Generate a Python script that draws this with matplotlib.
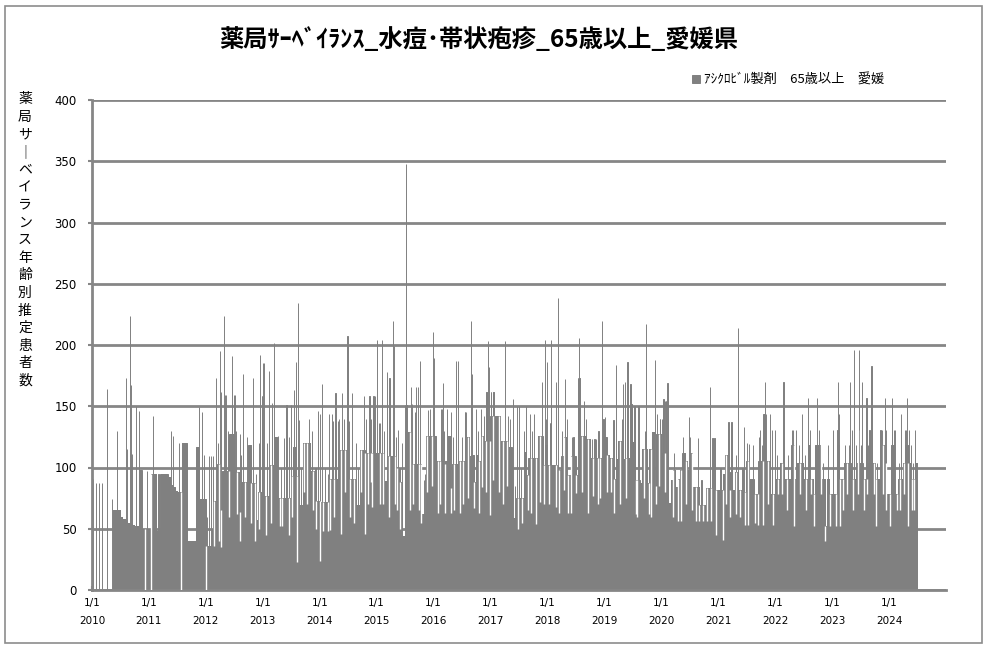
import numpy as np
import pandas as pd
import matplotlib
matplotlib.use("Agg")
import matplotlib.pyplot as plt
from matplotlib.patches import Rectangle

plt.rcParams['font.family'] = ['Noto Sans CJK JP', 'DejaVu Sans']

TITLE = "薬局ｻｰﾍﾞｲﾗﾝｽ_水痘･帯状疱疹_65歳以上_愛媛県"
SERIES_LABEL = "ｱｼｸﾛﾋﾞﾙ製剤　65歳以上　愛媛"
YLABEL_CHARS = ["薬", "局", "サ", "｜", "ベ", "イ", "ラ", "ン", "ス",
                "年", "齢", "別", "推", "定", "患", "者", "数"]
YEARS = list(range(2010, 2025))
Y_TICKS = [0, 50, 100, 150, 200, 250, 300, 350, 400]

# Half-month levels (1st-15th, 16th-end) of the main bar mass, per year
level_2010 = [0, 0, 0, 0, 0, 0, 0, 0, 0, 65, 65, 65, 60, 58, 57, 55, 54, 53, 52, 52, 98, 50, 50, 50]
level_2011 = [50, 95, 95, 48, 48, 95, 95, 95, 92, 86, 84, 81, 80, 80, 120, 120, 40, 40, 40, 40, 117, 74, 74, 74]
level_2012 = [36, 36, 50, 73, 73, 103, 65, 97, 97, 97, 127, 127, 96, 96, 64, 88, 88, 88, 118, 87, 87, 57, 80, 80]
level_2013 = [77, 77, 77, 102, 102, 125, 75, 75, 75, 75, 75, 75, 93, 117, 93, 69, 69, 120, 120, 120, 97, 97, 73, 73]
level_2014 = [72, 72, 72, 72, 91, 91, 91, 91, 114, 114, 114, 114, 91, 91, 91, 69, 69, 114, 114, 112, 112, 112, 112, 112]
level_2015 = [112, 112, 112, 89, 89, 109, 109, 109, 100, 100, 88, 44, 129, 129, 129, 103, 103, 103, 103, 62, 62, 126, 126, 126]
level_2016 = [126, 105, 105, 105, 103, 105, 126, 83, 103, 103, 103, 105, 105, 105, 125, 109, 110, 88, 110, 105, 126, 122, 122, 122]
level_2017 = [142, 122, 142, 142, 122, 122, 122, 117, 117, 59, 59, 75, 75, 75, 113, 94, 108, 108, 108, 108, 126, 126, 102, 118]
level_2018 = [102, 102, 102, 102, 98, 98, 109, 125, 94, 94, 109, 109, 94, 126, 126, 126, 123, 123, 108, 108, 108, 108, 108, 109]
level_2019 = [125, 110, 108, 108, 91, 107, 122, 122, 107, 108, 108, 108, 121, 90, 90, 87, 115, 115, 87, 115, 129, 85, 127, 127]
level_2020 = [112, 112, 112, 71, 90, 98, 84, 91, 98, 112, 105, 98, 112, 84, 84, 84, 69, 69, 69, 83, 83, 83, 69, 82]
level_2021 = [82, 82, 95, 110, 96, 82, 82, 96, 82, 82, 80, 80, 105, 91, 91, 78, 78, 105, 105, 105, 105, 105, 78, 78]
level_2022 = [91, 91, 104, 104, 91, 91, 91, 118, 91, 104, 104, 104, 91, 91, 118, 91, 78, 118, 118, 91, 91, 52, 91, 78]
level_2023 = [78, 78, 118, 91, 91, 104, 104, 104, 91, 91, 104, 104, 104, 91, 91, 104, 104, 104, 91, 91, 91, 118, 104, 78]
level_2024 = [78, 118, 78, 78, 91, 91, 104, 118, 104, 91, 91, 104]

# Single-day peaks (date, value)
spikes_2010 = [("2010-01-09", 91), ("2010-01-26", 87), ("2010-02-17", 87), ("2010-03-08", 87),
               ("2010-04-08", 164), ("2010-05-07", 74), ("2010-06-11", 130), ("2010-08-08", 173),
               ("2010-08-16", 115), ("2010-09-03", 224), ("2010-09-07", 167), ("2010-09-13", 111),
               ("2010-10-09", 150), ("2010-10-28", 146), ("2010-12-20", 97)]
spikes_2011 = [("2011-01-28", 142), ("2011-03-04", 95), ("2011-05-21", 130), ("2011-06-03", 126),
               ("2011-07-14", 120), ("2011-11-16", 149), ("2011-12-10", 145), ("2011-12-20", 110)]
spikes_2012 = [("2012-01-10", 60), ("2012-01-20", 109), ("2012-02-05", 109), ("2012-02-15", 109),
               ("2012-03-07", 173), ("2012-03-20", 120), ("2012-04-02", 195), ("2012-04-05", 162),
               ("2012-04-27", 224), ("2012-05-05", 159), ("2012-05-10", 159), ("2012-05-20", 130),
               ("2012-06-18", 191), ("2012-06-28", 159), ("2012-07-05", 159), ("2012-07-15", 130),
               ("2012-08-10", 127), ("2012-08-15", 110), ("2012-08-27", 176), ("2012-09-20", 125),
               ("2012-10-05", 118), ("2012-10-30", 173), ("2012-11-20", 95), ("2012-12-08", 120),
               ("2012-12-16", 192), ("2012-12-26", 158), ("2012-12-28", 158)]
spikes_2013 = [("2013-01-04", 185), ("2013-01-09", 185), ("2013-01-28", 120), ("2013-02-10", 179),
               ("2013-03-01", 153), ("2013-03-14", 202), ("2013-04-09", 126), ("2013-04-25", 100),
               ("2013-05-18", 124), ("2013-05-28", 110), ("2013-06-02", 151), ("2013-06-20", 125),
               ("2013-07-02", 151), ("2013-07-21", 163), ("2013-08-03", 186), ("2013-08-16", 234),
               ("2013-08-22", 139), ("2013-09-05", 100), ("2013-10-25", 140), ("2013-11-15", 130),
               ("2013-12-05", 100), ("2013-12-22", 146)]
spikes_2014 = [("2014-01-03", 144), ("2014-01-16", 168), ("2014-02-05", 100), ("2014-02-25", 95),
               ("2014-03-02", 144), ("2014-03-19", 144), ("2014-03-28", 138), ("2014-04-12", 161),
               ("2014-04-29", 138), ("2014-05-05", 140), ("2014-05-25", 161), ("2014-06-05", 140),
               ("2014-06-28", 207), ("2014-07-09", 138), ("2014-07-28", 161), ("2014-08-20", 120),
               ("2014-09-05", 100), ("2014-10-12", 158), ("2014-10-25", 140), ("2014-11-16", 158),
               ("2014-11-28", 140), ("2014-12-12", 158), ("2014-12-23", 158)]
spikes_2015 = [("2015-01-03", 204), ("2015-01-15", 136), ("2015-01-25", 136), ("2015-02-04", 204),
               ("2015-02-20", 130), ("2015-03-10", 178), ("2015-03-25", 173), ("2015-04-15", 220),
               ("2015-04-22", 199), ("2015-05-05", 125), ("2015-05-20", 131), ("2015-06-15", 120),
               ("2015-07-03", 151), ("2015-07-08", 348), ("2015-07-12", 151), ("2015-07-15", 151),
               ("2015-08-07", 166), ("2015-08-18", 152), ("2015-09-04", 145), ("2015-09-13", 166),
               ("2015-09-21", 166), ("2015-10-08", 187), ("2015-10-30", 90), ("2015-11-05", 95),
               ("2015-11-27", 147), ("2015-12-12", 148), ("2015-12-29", 211)]
spikes_2016 = [("2016-01-02", 189), ("2016-02-18", 148), ("2016-02-24", 148), ("2016-02-29", 169),
               ("2016-03-10", 130), ("2016-03-26", 148), ("2016-04-21", 145), ("2016-05-05", 125),
               ("2016-05-24", 187), ("2016-06-06", 187), ("2016-07-02", 125), ("2016-07-20", 145),
               ("2016-07-22", 145), ("2016-07-26", 145), ("2016-08-29", 220), ("2016-09-05", 176),
               ("2016-10-01", 148), ("2016-10-10", 130), ("2016-11-02", 148), ("2016-11-22", 142),
               ("2016-12-02", 162), ("2016-12-06", 162), ("2016-12-11", 162), ("2016-12-18", 203),
               ("2016-12-24", 182)]
spikes_2017 = [("2017-01-03", 162), ("2017-01-06", 162), ("2017-01-09", 142), ("2017-01-18", 162),
               ("2017-01-20", 162), ("2017-01-24", 162), ("2017-02-15", 142), ("2017-03-05", 140),
               ("2017-04-03", 203), ("2017-04-22", 142), ("2017-05-05", 140), ("2017-05-25", 156),
               ("2017-06-05", 85), ("2017-06-19", 150), ("2017-07-02", 150), ("2017-07-15", 100),
               ("2017-08-05", 130), ("2017-08-18", 150), ("2017-09-11", 144), ("2017-09-25", 130),
               ("2017-10-06", 144), ("2017-11-27", 170), ("2017-12-16", 204), ("2017-12-22", 140),
               ("2017-12-29", 186)]
spikes_2018 = [("2018-01-17", 136), ("2018-01-20", 136), ("2018-01-22", 204), ("2018-01-25", 152),
               ("2018-02-23", 170), ("2018-03-08", 238), ("2018-04-05", 130), ("2018-04-22", 172),
               ("2018-05-07", 140), ("2018-06-05", 125), ("2018-06-17", 125), ("2018-07-16", 173),
               ("2018-07-18", 173), ("2018-07-21", 206), ("2018-07-24", 173), ("2018-07-26", 173),
               ("2018-07-28", 173), ("2018-08-22", 154), ("2018-09-05", 140), ("2018-09-28", 123),
               ("2018-10-13", 123), ("2018-10-30", 123), ("2018-11-06", 123), ("2018-11-25", 130),
               ("2018-12-16", 220), ("2018-12-27", 140)]
spikes_2019 = [("2019-01-05", 141), ("2019-03-01", 139), ("2019-03-19", 184), ("2019-04-25", 140),
               ("2019-05-03", 168), ("2019-05-16", 170), ("2019-05-30", 186), ("2019-06-18", 168),
               ("2019-06-20", 130), ("2019-06-22", 152), ("2019-06-24", 152), ("2019-06-26", 152),
               ("2019-07-14", 150), ("2019-08-08", 150), ("2019-09-20", 130), ("2019-09-23", 217),
               ("2019-09-28", 130), ("2019-11-20", 188), ("2019-12-03", 144), ("2019-12-22", 140),
               ("2019-12-26", 140)]
spikes_2020 = [("2020-01-05", 140), ("2020-01-10", 140), ("2020-01-16", 156), ("2020-01-25", 154),
               ("2020-01-29", 154), ("2020-02-03", 154), ("2020-02-10", 169), ("2020-03-25", 112),
               ("2020-05-20", 125), ("2020-06-25", 141), ("2020-07-05", 125), ("2020-08-22", 124),
               ("2020-09-15", 90), ("2020-11-08", 166), ("2020-11-25", 124), ("2020-11-28", 124),
               ("2020-12-08", 124)]
spikes_2021 = [("2021-01-15", 100), ("2021-03-08", 137), ("2021-03-27", 137), ("2021-04-25", 110),
               ("2021-05-05", 214), ("2021-06-05", 100), ("2021-06-13", 133), ("2021-07-05", 120),
               ("2021-07-15", 119), ("2021-08-10", 118), ("2021-09-20", 125), ("2021-09-24", 131),
               ("2021-10-07", 118), ("2021-10-18", 144), ("2021-10-22", 144), ("2021-10-25", 144),
               ("2021-10-27", 170), ("2021-11-02", 144), ("2021-11-28", 144), ("2021-12-11", 131)]
spikes_2022 = [("2022-01-01", 131), ("2022-01-15", 110), ("2022-02-23", 170), ("2022-03-25", 110),
               ("2022-04-20", 131), ("2022-04-27", 131), ("2022-05-14", 131), ("2022-06-05", 118),
               ("2022-06-24", 144), ("2022-07-10", 110), ("2022-08-01", 157), ("2022-08-15", 131),
               ("2022-09-28", 157), ("2022-10-09", 131), ("2022-10-20", 131), ("2022-11-05", 104),
               ("2022-12-08", 118)]
spikes_2023 = [("2023-01-09", 131), ("2023-02-05", 131), ("2023-02-10", 170), ("2023-02-17", 144),
               ("2023-03-25", 118), ("2023-04-20", 118), ("2023-04-28", 170), ("2023-05-09", 131),
               ("2023-05-24", 196), ("2023-06-06", 118), ("2023-06-15", 131), ("2023-06-23", 196),
               ("2023-07-05", 118), ("2023-07-13", 170), ("2023-08-10", 157), ("2023-08-20", 118),
               ("2023-08-29", 131), ("2023-09-11", 183), ("2023-10-15", 104), ("2023-11-08", 131),
               ("2023-11-20", 131), ("2023-12-04", 157), ("2023-12-11", 131)]
spikes_2024 = [("2024-01-20", 131), ("2024-01-22", 157), ("2024-02-04", 131), ("2024-02-11", 131),
               ("2024-03-05", 104), ("2024-03-20", 144), ("2024-04-15", 131), ("2024-04-20", 131),
               ("2024-04-28", 157), ("2024-05-11", 131), ("2024-05-20", 118), ("2024-06-05", 104),
               ("2024-06-18", 131)]

# Single-day drops (date, value)
dips_2010_2011 = [("2010-12-10", 0), ("2011-01-16", 0), ("2011-07-26", 0)]
dips_2012 = [("2012-01-01", 0), ("2012-02-20", 36), ("2012-03-25", 40), ("2012-04-10", 35),
             ("2012-05-28", 60), ("2012-07-20", 62), ("2012-08-05", 40), ("2012-09-10", 60),
             ("2012-10-20", 55), ("2012-11-10", 40), ("2012-12-05", 50)]
dips_2013 = [("2013-01-20", 45), ("2013-02-25", 55), ("2013-04-20", 52), ("2013-05-05", 52),
             ("2013-06-15", 45), ("2013-07-10", 60), ("2013-08-08", 23), ("2013-09-25", 80),
             ("2013-10-10", 70), ("2013-11-20", 65), ("2013-12-10", 50), ("2013-12-31", 24)]
dips_2014 = [("2014-01-25", 48), ("2014-02-20", 48), ("2014-03-10", 49), ("2014-04-05", 60),
             ("2014-05-19", 46), ("2014-06-10", 80), ("2014-07-15", 60), ("2014-08-10", 55),
             ("2014-09-25", 80), ("2014-10-20", 46), ("2014-11-05", 70), ("2014-11-25", 88),
             ("2014-12-05", 68)]
dips_2015 = [("2015-01-20", 70), ("2015-02-12", 70), ("2015-03-20", 60), ("2015-04-28", 70),
             ("2015-05-12", 65), ("2015-06-01", 50), ("2015-08-01", 65), ("2015-08-25", 70),
             ("2015-09-30", 65), ("2015-10-15", 55), ("2015-11-20", 80), ("2015-12-20", 85)]
dips_2016 = [("2016-01-28", 63), ("2016-02-10", 70), ("2016-03-12", 63), ("2016-04-25", 63),
             ("2016-05-10", 65), ("2016-06-18", 63), ("2016-07-10", 70), ("2016-08-10", 75),
             ("2016-09-20", 67), ("2016-10-20", 63), ("2016-11-10", 84), ("2016-12-05", 80),
             ("2016-12-29", 61)]
dips_2017 = [("2017-01-15", 90), ("2017-02-25", 80), ("2017-03-20", 70), ("2017-04-15", 85),
             ("2017-05-20", 82), ("2017-06-25", 50), ("2017-07-20", 55), ("2017-08-28", 65),
             ("2017-09-20", 63), ("2017-10-21", 54), ("2017-11-15", 72), ("2017-12-10", 70)]
dips_2018 = [("2018-01-10", 70), ("2018-02-27", 68), ("2018-03-15", 63), ("2018-04-20", 82),
             ("2018-05-15", 63), ("2018-06-01", 63), ("2018-07-05", 79), ("2018-08-10", 80),
             ("2018-09-15", 63), ("2018-10-20", 77), ("2018-11-20", 70), ("2018-12-05", 75)]
dips_2019 = [("2019-01-20", 80), ("2019-02-15", 80), ("2019-03-06", 63), ("2019-04-10", 70),
             ("2019-05-22", 75), ("2019-07-25", 62), ("2019-08-01", 60), ("2019-09-10", 75),
             ("2019-10-14", 62), ("2019-10-25", 60), ("2019-11-28", 70), ("2019-12-20", 85)]
dips_2020 = [("2020-01-28", 80), ("2020-03-16", 60), ("2020-04-20", 56), ("2020-05-05", 56),
             ("2020-06-10", 70), ("2020-07-15", 65), ("2020-08-10", 56), ("2020-09-02", 56),
             ("2020-09-23", 56), ("2020-10-20", 56), ("2020-11-13", 56), ("2020-12-16", 45)]
dips_2021 = [("2021-01-31", 41), ("2021-02-20", 70), ("2021-03-16", 60), ("2021-04-22", 62),
             ("2021-05-20", 60), ("2021-06-20", 53), ("2021-07-10", 53), ("2021-08-25", 55),
             ("2021-09-10", 53), ("2021-10-15", 53), ("2021-11-15", 70), ("2021-12-20", 53)]
dips_2022 = [("2022-01-20", 78), ("2022-02-15", 78), ("2022-03-20", 65), ("2022-04-29", 52),
             ("2022-06-10", 78), ("2022-07-20", 65), ("2022-08-20", 78), ("2022-09-10", 52),
             ("2022-10-20", 78), ("2022-11-18", 40), ("2022-12-20", 52)]
dips_2023 = [("2023-01-25", 52), ("2023-02-20", 52), ("2023-03-10", 65), ("2023-04-10", 78),
             ("2023-05-15", 65), ("2023-06-15", 78), ("2023-07-25", 65), ("2023-08-15", 78),
             ("2023-09-25", 78), ("2023-10-09", 52), ("2023-11-25", 78), ("2023-12-15", 65)]
dips_2024 = [("2024-01-10", 52), ("2024-02-20", 65), ("2024-03-10", 65), ("2024-04-05", 78),
             ("2024-05-03", 52), ("2024-05-25", 65), ("2024-06-10", 65)]

GRAY = "#808080"
GRID = "#868686"

levels = {2010: level_2010, 2011: level_2011, 2012: level_2012, 2013: level_2013,
          2014: level_2014, 2015: level_2015, 2016: level_2016, 2017: level_2017,
          2018: level_2018, 2019: level_2019, 2020: level_2020, 2021: level_2021,
          2022: level_2022, 2023: level_2023, 2024: level_2024}
spikes = (spikes_2010 + spikes_2011 + spikes_2012 + spikes_2013 + spikes_2014 + spikes_2015 +
          spikes_2016 + spikes_2017 + spikes_2018 + spikes_2019 + spikes_2020 + spikes_2021 +
          spikes_2022 + spikes_2023 + spikes_2024)
dips = (dips_2010_2011 + dips_2012 + dips_2013 + dips_2014 + dips_2015 + dips_2016 + dips_2017 +
        dips_2018 + dips_2019 + dips_2020 + dips_2021 + dips_2022 + dips_2023 + dips_2024)

days = pd.date_range("2010-01-01", "2024-06-30", freq="D")
base = np.array([levels[d.year][(d.month - 1) * 2 + (1 if d.day > 15 else 0)] for d in days], dtype=float)
series = pd.Series(base, index=days)
for d, v in spikes:
    t = pd.Timestamp(d)
    series[t] = max(series[t], v)
dip_idx = pd.to_datetime([d for d, _ in dips])
dip_vals = np.array([v for _, v in dips], dtype=float)
dip_top = series[dip_idx].values.copy()
dip_top = np.maximum(dip_top, dip_vals)
for t, v in zip(dip_idx, dip_vals):
    series[t] = v

W, H = 987, 648
fig = plt.figure(figsize=(W / 100, H / 100), dpi=100)
ax = fig.add_axes([92 / W, 1 - 590 / H, (946 - 92) / W, (590 - 100) / H])

ax.bar(series.index, series.values, width=1.0, color=GRAY, edgecolor=GRAY,
       linewidth=0.7, label=SERIES_LABEL, zorder=2)
ax.vlines(dip_idx, dip_vals, dip_top, colors="white", linewidth=1.0, zorder=3)

ax.set_ylim(0, 400)
ax.set_xlim(pd.Timestamp("2010-01-01"), pd.Timestamp("2025-01-01"))
ax.set_yticks(Y_TICKS)
ax.set_yticklabels([str(t) for t in Y_TICKS], fontsize=8.5, family="DejaVu Sans")
ax.yaxis.grid(True, color=GRID, linewidth=2.0, zorder=0)
ax.set_axisbelow(True)
xt = [pd.Timestamp(f"{y}-01-01") for y in YEARS]
ax.set_xticks(xt)
ax.set_xticklabels([f"1/1\n{y}" for y in YEARS], fontsize=7.5, family="DejaVu Sans", linespacing=1.9)
ax.tick_params(axis="y", length=3, width=1.5, color=GRID, pad=8)
ax.tick_params(axis="x", length=3, width=1.5, color=GRID, direction="in", pad=6)
for s in ["top", "right"]:
    ax.spines[s].set_visible(False)
for s in ["left", "bottom"]:
    ax.spines[s].set_color(GRID)
    ax.spines[s].set_linewidth(2.0)

fig.text(479 / W, 1 - 40 / H, TITLE, ha="center", va="center", fontsize=17.5, fontweight="bold")
fig.legend(loc="center left", bbox_to_anchor=(680 / W, 1 - 80 / H), frameon=False,
           fontsize=9.5, handlelength=0.6, handleheight=0.6, handletextpad=0.3)
fig.text(25 / W, 1 - 240 / H, "\n".join(YLABEL_CHARS), ha="center", va="center",
         fontsize=10, linespacing=1.33)

fig.patches.append(Rectangle((5 / W, 1 - 643 / H), (982 - 5) / W, (643 - 6) / H,
                             transform=fig.transFigure, fill=False, edgecolor="#8c8c8c", linewidth=1.2))

fig.savefig("out.png", dpi=100)
